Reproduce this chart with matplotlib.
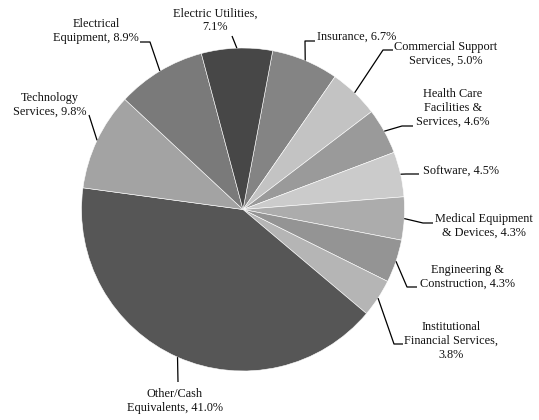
import numpy as np
import matplotlib
matplotlib.use("Agg")
import matplotlib.pyplot as plt

# slice data, clockwise from the top
labels = ["Insurance, 6.7%", "Commercial Support\nServices, 5.0%",
          "Health Care\nFacilities &\nServices, 4.6%", "Software, 4.5%",
          "Medical Equipment\n& Devices, 4.3%", "Engineering &\nConstruction, 4.3%",
          "Institutional\nFinancial Services,\n3.8%", "Other/Cash\nEquivalents, 41.0%",
          "Technology\nServices, 9.8%", "Electrical\nEquipment, 8.9%",
          "Electric Utilities,\n7.1%"]
values = [6.7, 5.0, 4.6, 4.5, 4.3, 4.3, 3.8, 41.0, 9.8, 8.9, 7.1]
colors = ["#848484", "#c3c3c3", "#9a9a9a", "#cbcbcb", "#acacac", "#949494",
          "#b5b5b5", "#565656", "#a3a3a3", "#7a7a7a", "#474747"]

# label layout in pixels from the top-left corner: text anchor, alignment,
# elbow point and end point of the leader line
text_pos = [(317, 37), (446, 54), (453, 108), (423, 172), (484, 226), (467, 277),
            (451, 341), (175, 401), (50, 105), (96, 31), (215, 20)]
text_ha = ["left", "center", "center", "left", "center", "center",
           "center", "center", "center", "center", "center"]
elbows = [(305, 41), (383, 50), (402, 126), (406, 174), (423, 223), (407, 287),
          (394, 344), (178, 382), (89, 115), (150, 42), (232, 36)]
ends = [(315, 41), (393, 50), (413, 126), (419, 174), (433, 223), (417, 287),
        (403, 344), (178, 382), (89, 115), (140, 42), (232, 36)]

W, H = 539, 420
cx, cy, r = 243, 209.5, 161.5

fig = plt.figure(figsize=(W / 100, H / 100), dpi=100)
ax = fig.add_axes([0, 0, 1, 1])

wedges, _ = ax.pie(values, colors=colors, startangle=79.4, counterclock=False,
                   center=(cx, H - cy), radius=r,
                   wedgeprops=dict(edgecolor="white", linewidth=0.4))
ax.set_xlim(0, W)
ax.set_ylim(0, H)
ax.set_aspect("auto")
ax.axis("off")

for w, lab, tp, ha, el, en in zip(wedges, labels, text_pos, text_ha, elbows, ends):
    mid = np.deg2rad((w.theta1 + w.theta2) / 2)
    x0 = cx + r * np.cos(mid)
    y0 = (H - cy) + r * np.sin(mid)
    ax.plot([x0, el[0], en[0]], [y0, H - el[1], H - en[1]],
            color="black", lw=0.9, solid_capstyle="butt")
    ax.text(tp[0], H - tp[1], lab, ha=ha, va="center", fontsize=8.8,
            family="Liberation Serif", linespacing=1.17, color="#111111")

fig.savefig("out.png", dpi=100)
